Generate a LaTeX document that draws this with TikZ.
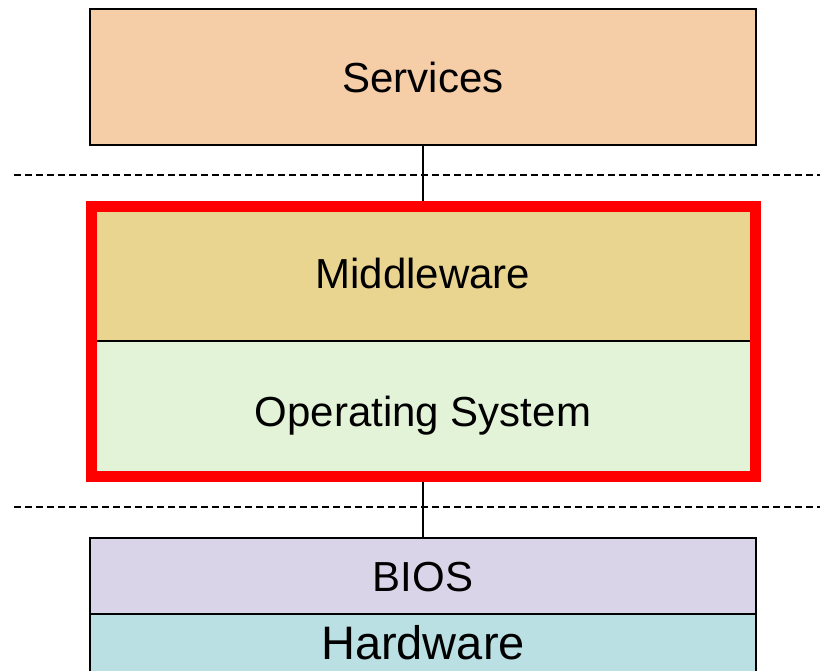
\documentclass[tikz,border=0pt]{standalone}
\usepackage{fontspec}
\setmainfont{Liberation Sans}
\begin{document}
\begin{tikzpicture}[x=1pt,y=-1pt,
  layer/.style={rectangle,draw=black,line width=1.8pt,inner sep=0pt,
    minimum width=666pt,font=\fontsize{42}{48}\selectfont,
    text height=30pt,text depth=0pt},
  stack/.style={rectangle,draw=none,inner sep=0pt,
    minimum width=664pt,font=\fontsize{42}{48}\selectfont,
    text height=30pt,text depth=0pt},
  frame/.style={rectangle,draw=red,line width=11pt,inner sep=0pt,
    minimum width=664pt,minimum height=270pt},
  divider/.style={draw=black,line width=1.3pt,dash pattern=on 7pt off 4pt},
  link/.style={draw=black,line width=1.5pt}]
\useasboundingbox[fill=white] (0,0) rectangle (820,670);

% boundary lines between the layers
\coordinate (d1l) at (14,175);
\coordinate (d1r) at (820,175);
\coordinate (d2l) at (14,507);
\coordinate (d2r) at (820,507);
\draw[divider] (d1l) -- (d1r);
\draw[divider] (d2l) -- (d2r);

% top layer
\node[layer,fill={rgb,255:red,245;green,205;blue,167},minimum height=136pt]
  (services) at (423,77) {Services};

% software stack inside the highlighted frame
\node[stack,fill={rgb,255:red,233;green,213;blue,143},minimum height=135pt]
  (mw) at (423,273.5) {Middleware};
\node[stack,fill={rgb,255:red,226;green,243;blue,216},minimum height=135pt]
  (os) at (423,408.5) {\raisebox{-2.5pt}{Operating System}};
\draw[black,line width=1.8pt] (mw.south west) -- (mw.south east);
\node[frame] (box) at (423,341) {};

% firmware and hardware
\node[layer,fill={rgb,255:red,217;green,212;blue,232},minimum height=76pt]
  (bios) at (423,576) {BIOS};
\node[layer,fill={rgb,255:red,187;green,224;blue,227},minimum height=58pt,
  font=\fontsize{47}{54}\selectfont,text height=33.6pt]
  (hw) at (423,643) {Hardware};

% vertical connectors
\draw[link] (services.south) -- (box.north);
\draw[link] (box.south) -- (bios.north);
\end{tikzpicture}
\end{document}
